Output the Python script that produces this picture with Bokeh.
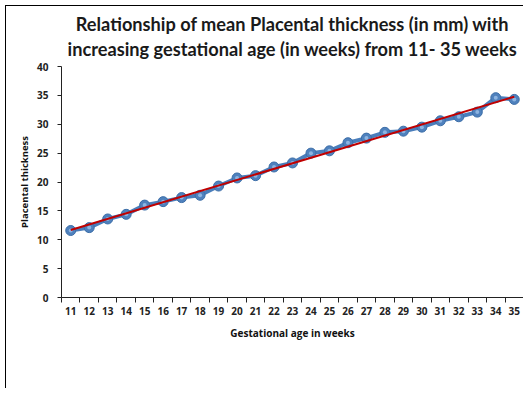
import numpy as np
from bokeh.plotting import figure
from bokeh.models import Range1d, FixedTicker, Title
from bokeh.embed import file_html
from bokeh.resources import INLINE

# ---- data ----
weeks = list(range(11, 36))
thickness = [11.6, 12.1, 13.6, 14.4, 16.0, 16.6, 17.3, 17.7, 19.3, 20.7,
             21.1, 22.6, 23.3, 25.0, 25.4, 26.8, 27.6, 28.6, 28.8, 29.5,
             30.6, 31.3, 32.1, 34.6, 34.3]
y_ticks = [0, 5, 10, 15, 20, 25, 30, 35, 40]
title_line1 = "Relationship of mean Placental thickness (in mm) with"
title_line2 = "increasing gestational age (in weeks) from 11- 35 weeks"
x_label = "Gestational age in weeks"
y_label = "Placental thickness"

# linear trendline fitted to the series
slope, intercept = np.polyfit(weeks, thickness, 1)
trend_x = [weeks[0], weeks[-1]]
trend_y = [slope * w + intercept for w in trend_x]

p = figure(width=518, height=383, output_backend="svg", toolbar_location=None,
           x_range=Range1d(weeks[0] - 0.5, weeks[-1] + 0.5),
           y_range=Range1d(0, 40),
           min_border_left=55, min_border_right=1, min_border_top=60,
           min_border_bottom=92)
p.title.visible = False
p.styles = {"border-left": "1px solid #000000", "border-top": "1px solid #000000",
            "margin-left": "5px", "margin-top": "5px"}

t2 = Title(text=title_line2, align="center", text_font="Lato", standoff=13, offset=-6,
           text_font_style="bold", text_font_size="18.2px", text_color="#1a1a1a")
t1 = Title(text=title_line1, align="center", text_font="Lato", standoff=-10, offset=-6,
           text_font_style="bold", text_font_size="18.2px", text_color="#1a1a1a")
p.add_layout(t2, "above")
p.add_layout(t1, "above")

p.grid.visible = False
p.outline_line_color = None
p.background_fill_color = "white"
p.border_fill_color = "white"

# x axis
p.xaxis.ticker = FixedTicker(ticks=weeks,
                             minor_ticks=[w - 0.5 for w in weeks] + [weeks[-1] + 0.5])
p.xaxis.major_tick_out = 0
p.xaxis.major_tick_in = 0
p.xaxis.minor_tick_out = 5
p.xaxis.minor_tick_in = 0
p.xaxis.minor_tick_line_color = "#222222"
p.xaxis.major_label_standoff = 4
p.xaxis.axis_label = x_label
p.xaxis.axis_label_standoff = 8

# y axis
p.yaxis.ticker = FixedTicker(ticks=y_ticks)
p.yaxis.major_tick_out = 4
p.yaxis.major_tick_in = 0
p.yaxis.minor_tick_line_color = None
p.yaxis.major_label_standoff = 9
p.yaxis.axis_label = y_label
p.yaxis.axis_label_standoff = 3

for ax in (p.xaxis, p.yaxis):
    ax.axis_line_color = "#222222"
    ax.major_tick_line_color = "#222222"
    ax.major_label_text_font = "Open Sans"
    ax.major_label_text_font_style = "bold"
    ax.major_label_text_font_size = "10px"
    ax.major_label_text_color = "#222222"
    ax.axis_label_text_font = "Open Sans"
    ax.axis_label_text_font_style = "bold"
    ax.axis_label_text_font_size = "10px"
    ax.axis_label_text_color = "#111111"
p.yaxis.axis_label_text_font_size = "9.5px"

# series
p.line(weeks, thickness, line_color="#4A7EBB", line_width=4)
p.scatter(weeks, thickness, size=10, fill_color="#4F81BD", line_color="#3C6EA8",
          line_width=1)
p.scatter(weeks, thickness, size=4, fill_color="#9CC0EA", line_color=None,
          fill_alpha=0.8)
# trendline
p.line(trend_x, trend_y, line_color="#C00000", line_width=2)

open("out.html", "w").write(file_html(p, INLINE))
